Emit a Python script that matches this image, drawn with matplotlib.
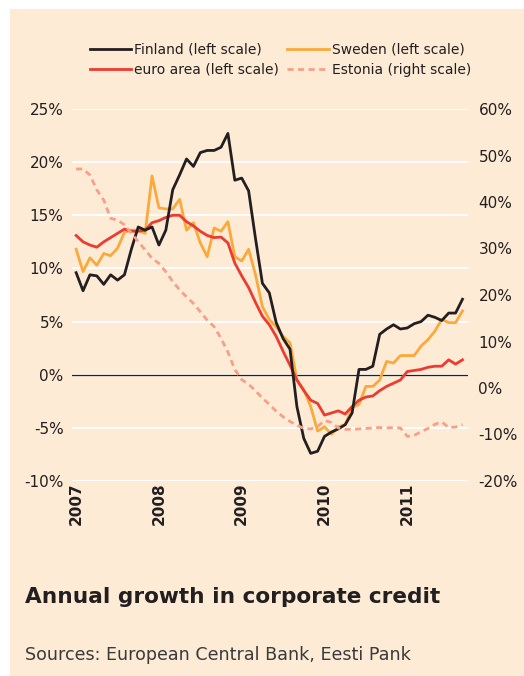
import matplotlib
matplotlib.use('Agg')
import matplotlib.pyplot as plt
from matplotlib.patches import Rectangle
from matplotlib.ticker import FuncFormatter

plt.rcParams['font.family'] = ['DejaVu Sans']

# monthly data, Jan 2007 - Sep 2011
years = ['2007', '2008', '2009', '2010', '2011']

finland = [9.6, 7.9, 9.4, 9.3, 8.5, 9.4, 8.9, 9.4, 11.8, 13.9, 13.6, 13.9,
           12.2, 13.6, 17.4, 18.8, 20.3, 19.6, 20.9, 21.1, 21.1, 21.4, 22.7, 18.3,
           18.5, 17.3, 12.8, 8.6, 7.7, 4.9, 3.4, 2.4, -3.0, -6.0, -7.4, -7.2,
           -5.8, -5.4, -5.1, -4.7, -3.6, 0.5, 0.5, 0.8, 3.8, 4.3, 4.7, 4.3,
           4.4, 4.8, 5.0, 5.6, 5.4, 5.1, 5.8, 5.8, 7.1]

sweden = [11.8, 9.7, 11.0, 10.3, 11.4, 11.2, 11.9, 13.4, 13.6, 13.6, 13.3, 18.7,
          15.7, 15.6, 15.6, 16.5, 13.6, 14.3, 12.4, 11.1, 13.8, 13.5, 14.4, 11.1,
          10.7, 11.8, 9.4, 6.4, 5.2, 4.5, 3.6, 3.0, -0.5, -1.4, -3.0, -5.3,
          -4.9, -5.6, -4.9, -4.7, -3.1, -2.8, -1.1, -1.1, -0.5, 1.25, 1.1, 1.8,
          1.8, 1.8, 2.7, 3.3, 4.1, 5.2, 4.9, 4.9, 6.0]

euro_area = [13.1, 12.5, 12.2, 12.0, 12.5, 12.9, 13.3, 13.7, 13.5, 13.5, 13.6, 14.3,
             14.5, 14.8, 15.0, 15.0, 14.4, 14.0, 13.5, 13.1, 12.9, 12.95, 12.4, 10.5,
             9.3, 8.2, 6.8, 5.5, 4.7, 3.6, 2.2, 0.9, -0.5, -1.5, -2.4, -2.7,
             -3.8, -3.6, -3.4, -3.7, -3.0, -2.4, -2.1, -2.0, -1.5, -1.1, -0.8, -0.5,
             0.3, 0.4, 0.5, 0.7, 0.8, 0.8, 1.4, 1.0, 1.4]

estonia = [47.1, 47.1, 45.8, 42.6, 40.4, 36.5, 36.1, 35.1, 33.3, 31.5, 29.7, 27.9,
           26.8, 25.0, 22.9, 21.1, 19.6, 18.2, 16.4, 14.6, 13.2, 10.7, 7.7, 4.0,
           1.8, 0.8, -0.6, -2.2, -3.5, -5.0, -6.2, -7.2, -8.0, -8.7, -8.8, -8.3,
           -7.0, -7.4, -8.6, -8.9, -8.9, -8.8, -8.7, -8.6, -8.5, -8.6, -8.5, -8.6,
           -10.4, -10.2, -9.4, -8.7, -7.8, -7.3, -8.5, -8.4, -7.9]

months = list(range(len(finland)))

BG = '#FDEBD6'
TXT = '#231F20'

fig = plt.figure(figsize=(5.24, 6.76), dpi=100, facecolor='white')
fig.patches.append(Rectangle((10 / 524, 0), 1, 1 - 9 / 676, transform=fig.transFigure,
                             facecolor=BG, edgecolor='none', zorder=-10))

ax = fig.add_axes([72 / 524, 1 - 481 / 676, 396 / 524, 372 / 676])
ax.set_facecolor('none')
ax2 = ax.twinx()

ax.set_xlim(-0.6, 56.8)
ax.set_ylim(-10, 25)
ax2.set_ylim(-20, 60)

ax.set_yticks(range(-10, 26, 5))
ax2.set_yticks(range(-20, 61, 10))
pct = FuncFormatter(lambda v, p: f'{v:.0f}%')
ax.yaxis.set_major_formatter(pct)
ax2.yaxis.set_major_formatter(pct)

ax.set_xticks(range(0, 49, 12))
ax.set_xticklabels(years, rotation=90, fontweight='bold', fontsize=9.5,
                   va='top', ha='center', color=TXT)

ax.yaxis.grid(True, color='white', linewidth=1.3)
ax.set_axisbelow(True)
ax.axhline(0, color=TXT, linewidth=0.9, zorder=2)

for a in (ax, ax2):
    for s in a.spines.values():
        s.set_visible(False)
    a.tick_params(length=0, labelsize=11, labelcolor=TXT)
ax.tick_params(axis='y', pad=6)
ax.tick_params(axis='x', pad=1)
ax2.tick_params(axis='y', pad=7.5)

l_fin, = ax.plot(months, finland, color='#231F20', linewidth=2.0, zorder=4)
l_swe, = ax.plot(months, sweden, color='#FBA93B', linewidth=2.0, zorder=3)
l_eur, = ax.plot(months, euro_area, color='#EC3B30', linewidth=2.0, zorder=3.5)
l_est, = ax2.plot(months, estonia, color='#F6A08A', linewidth=2.0,
                  linestyle=(0, (2.2, 1.6)))

fig.legend([l_fin, l_eur, l_swe, l_est],
           ['Finland (left scale)', 'euro area (left scale)',
            'Sweden (left scale)', 'Estonia (right scale)'],
           loc='center', bbox_to_anchor=(0.535, 1 - 59.5 / 676), ncol=2,
           frameon=False, fontsize=10, handlelength=3.0, handletextpad=0.2,
           columnspacing=0.6, labelspacing=0.45, labelcolor=TXT)

fig.text(25 / 524, 1 - 597 / 676, 'Annual growth in corporate credit',
         fontsize=15.6, fontweight='bold', color=TXT, va='center')
fig.text(25 / 524, 1 - 655 / 676, 'Sources: European Central Bank, Eesti Pank',
         fontsize=12.6, color='#3a3a3a', va='center')

fig.savefig('out.png', dpi=100, facecolor='white')
